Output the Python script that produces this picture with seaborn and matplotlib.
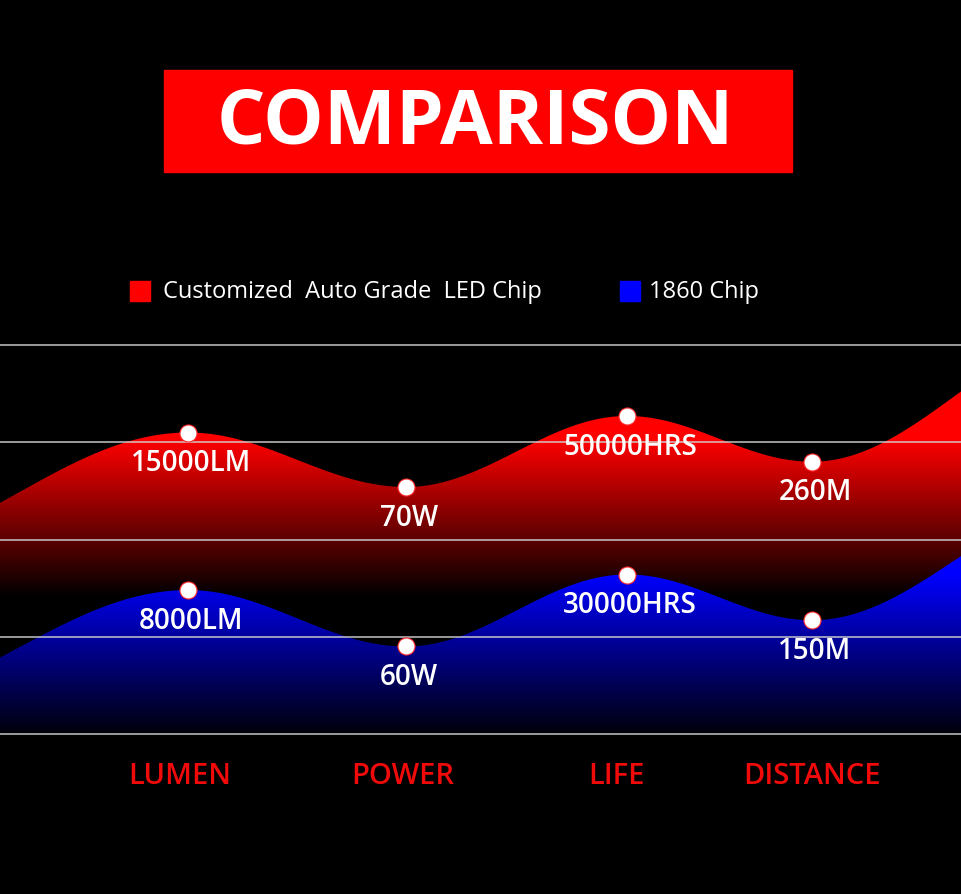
import numpy as np
import pandas as pd
import matplotlib
matplotlib.use("Agg")
import matplotlib.pyplot as plt
import seaborn as sns
from matplotlib.colors import LinearSegmentedColormap
from matplotlib.patches import Rectangle

# data
categories = ["LUMEN", "POWER", "LIFE", "DISTANCE"]
series_names = ["Customized  Auto Grade  LED Chip", "1860 Chip"]
led_values = [3.10, 2.54, 3.27, 2.80]      # relative height on the grid (0-4)
chip_values = [1.48, 0.90, 1.64, 1.17]
led_labels = ["15000LM", "70W", "50000HRS", "260M"]
chip_labels = ["8000LM", "60W", "30000HRS", "150M"]
# where the waves run off the left / right edge
led_edges = [1.87, 4.17]
chip_edges = [0.30, 2.42]

# layout (pixels, 961 x 895 canvas)
W, H = 961, 895
x_pos = [188, 406, 627, 812]
cat_x = [180, 403, 616, 812]
x_lead, x_tail = -150, 1100
px_per_unit = 97.25
base_px = 735


def v(py):
    return (base_px - py) / px_per_unit


def wave(xk, yk, n=800):
    xk = np.asarray(xk, float)
    yk = np.asarray(yk, float)
    xs = np.linspace(0, W, n)
    i = np.clip(np.searchsorted(xk, xs) - 1, 0, len(xk) - 2)
    t = (xs - xk[i]) / (xk[i + 1] - xk[i])
    s = (1 - np.cos(np.pi * t)) / 2
    return xs, yk[i] + (yk[i + 1] - yk[i]) * s


sns.set_theme(style="dark", rc={"axes.facecolor": "black", "figure.facecolor": "black"})
plt.rcParams["font.family"] = ["Open Sans", "DejaVu Sans"]

fig = plt.figure(figsize=(W / 100, H / 100), dpi=100)
ax = fig.add_axes([0, 0, 1, 1])
ax.set_xlim(0, W)
ax.set_ylim(v(H), v(0))
ax.set_axis_off()


def gradient_fill(values, edges, color, py_black, py_full, z):
    xk = [x_lead] + x_pos + [x_tail]
    yk = [edges[0]] + list(values) + [edges[1]]
    xs, ys = wave(xk, yk)
    poly = ax.fill_between(xs, 0, ys, color="none", lw=0)
    vv = np.linspace(0, 4.6, 400)
    g = np.clip((vv - v(py_black)) / (v(py_full) - v(py_black)), 0, 1)
    cmap = LinearSegmentedColormap.from_list("g", ["black", color])
    im = ax.imshow(g.reshape(-1, 1), extent=[0, W, 0, 4.6], origin="lower",
                   aspect="auto", cmap=cmap, vmin=0, vmax=1, zorder=z)
    im.set_clip_path(poly.get_paths()[0], transform=ax.transData)


gradient_fill(led_values, led_edges, "#ff0000", 598, 440, 1)
gradient_fill(chip_values, chip_edges, "#0000ff", 742, 575, 2)

for k in range(5):
    ax.axhline(k, color="#d0d0d0", lw=1.3, alpha=0.8, zorder=3)

df = pd.DataFrame({
    "x": x_pos * 2,
    "y": led_values + chip_values,
    "label": led_labels + chip_labels,
})
sns.scatterplot(data=df, x="x", y="y", s=150, color="white", edgecolor="#ff2a2a",
                linewidth=0.8, zorder=4, ax=ax, legend=False)
ax.set_xlim(0, W)
ax.set_ylim(v(H), v(0))

for _, r in df.iterrows():
    ax.text(r["x"] + 3, r["y"] - 0.31, r["label"], color="white", fontsize=20,
            fontweight="semibold", ha="center", va="center", zorder=5)

for x, c in zip(cat_x, categories):
    ax.text(x, v(777), c, color="#f00a0a", fontsize=21, fontweight="semibold",
            ha="center", va="center", zorder=5)

# title box
fig.patches.append(Rectangle((164 / W, 1 - 173 / H), 628 / W, 102 / H,
                             transform=fig.transFigure, color="#ff0000", zorder=0))
fig.text(475 / W, 1 - 124 / H, "COMPARISON", color="white", fontsize=55,
         fontweight="bold", ha="center", va="center")

# legend
fig.patches.append(Rectangle((130 / W, 1 - 302 / H), 20 / W, 20 / H,
                             transform=fig.transFigure, color="#ff0000"))
fig.text(163 / W, 1 - 292 / H, series_names[0], color="white", fontsize=17,
         fontweight="medium", ha="left", va="center")
fig.patches.append(Rectangle((620 / W, 1 - 302 / H), 20 / W, 20 / H,
                             transform=fig.transFigure, color="#0000ff"))
fig.text(649 / W, 1 - 292 / H, series_names[1], color="white", fontsize=17,
         fontweight="medium", ha="left", va="center")

fig.savefig("out.png", dpi=100, facecolor="black")
